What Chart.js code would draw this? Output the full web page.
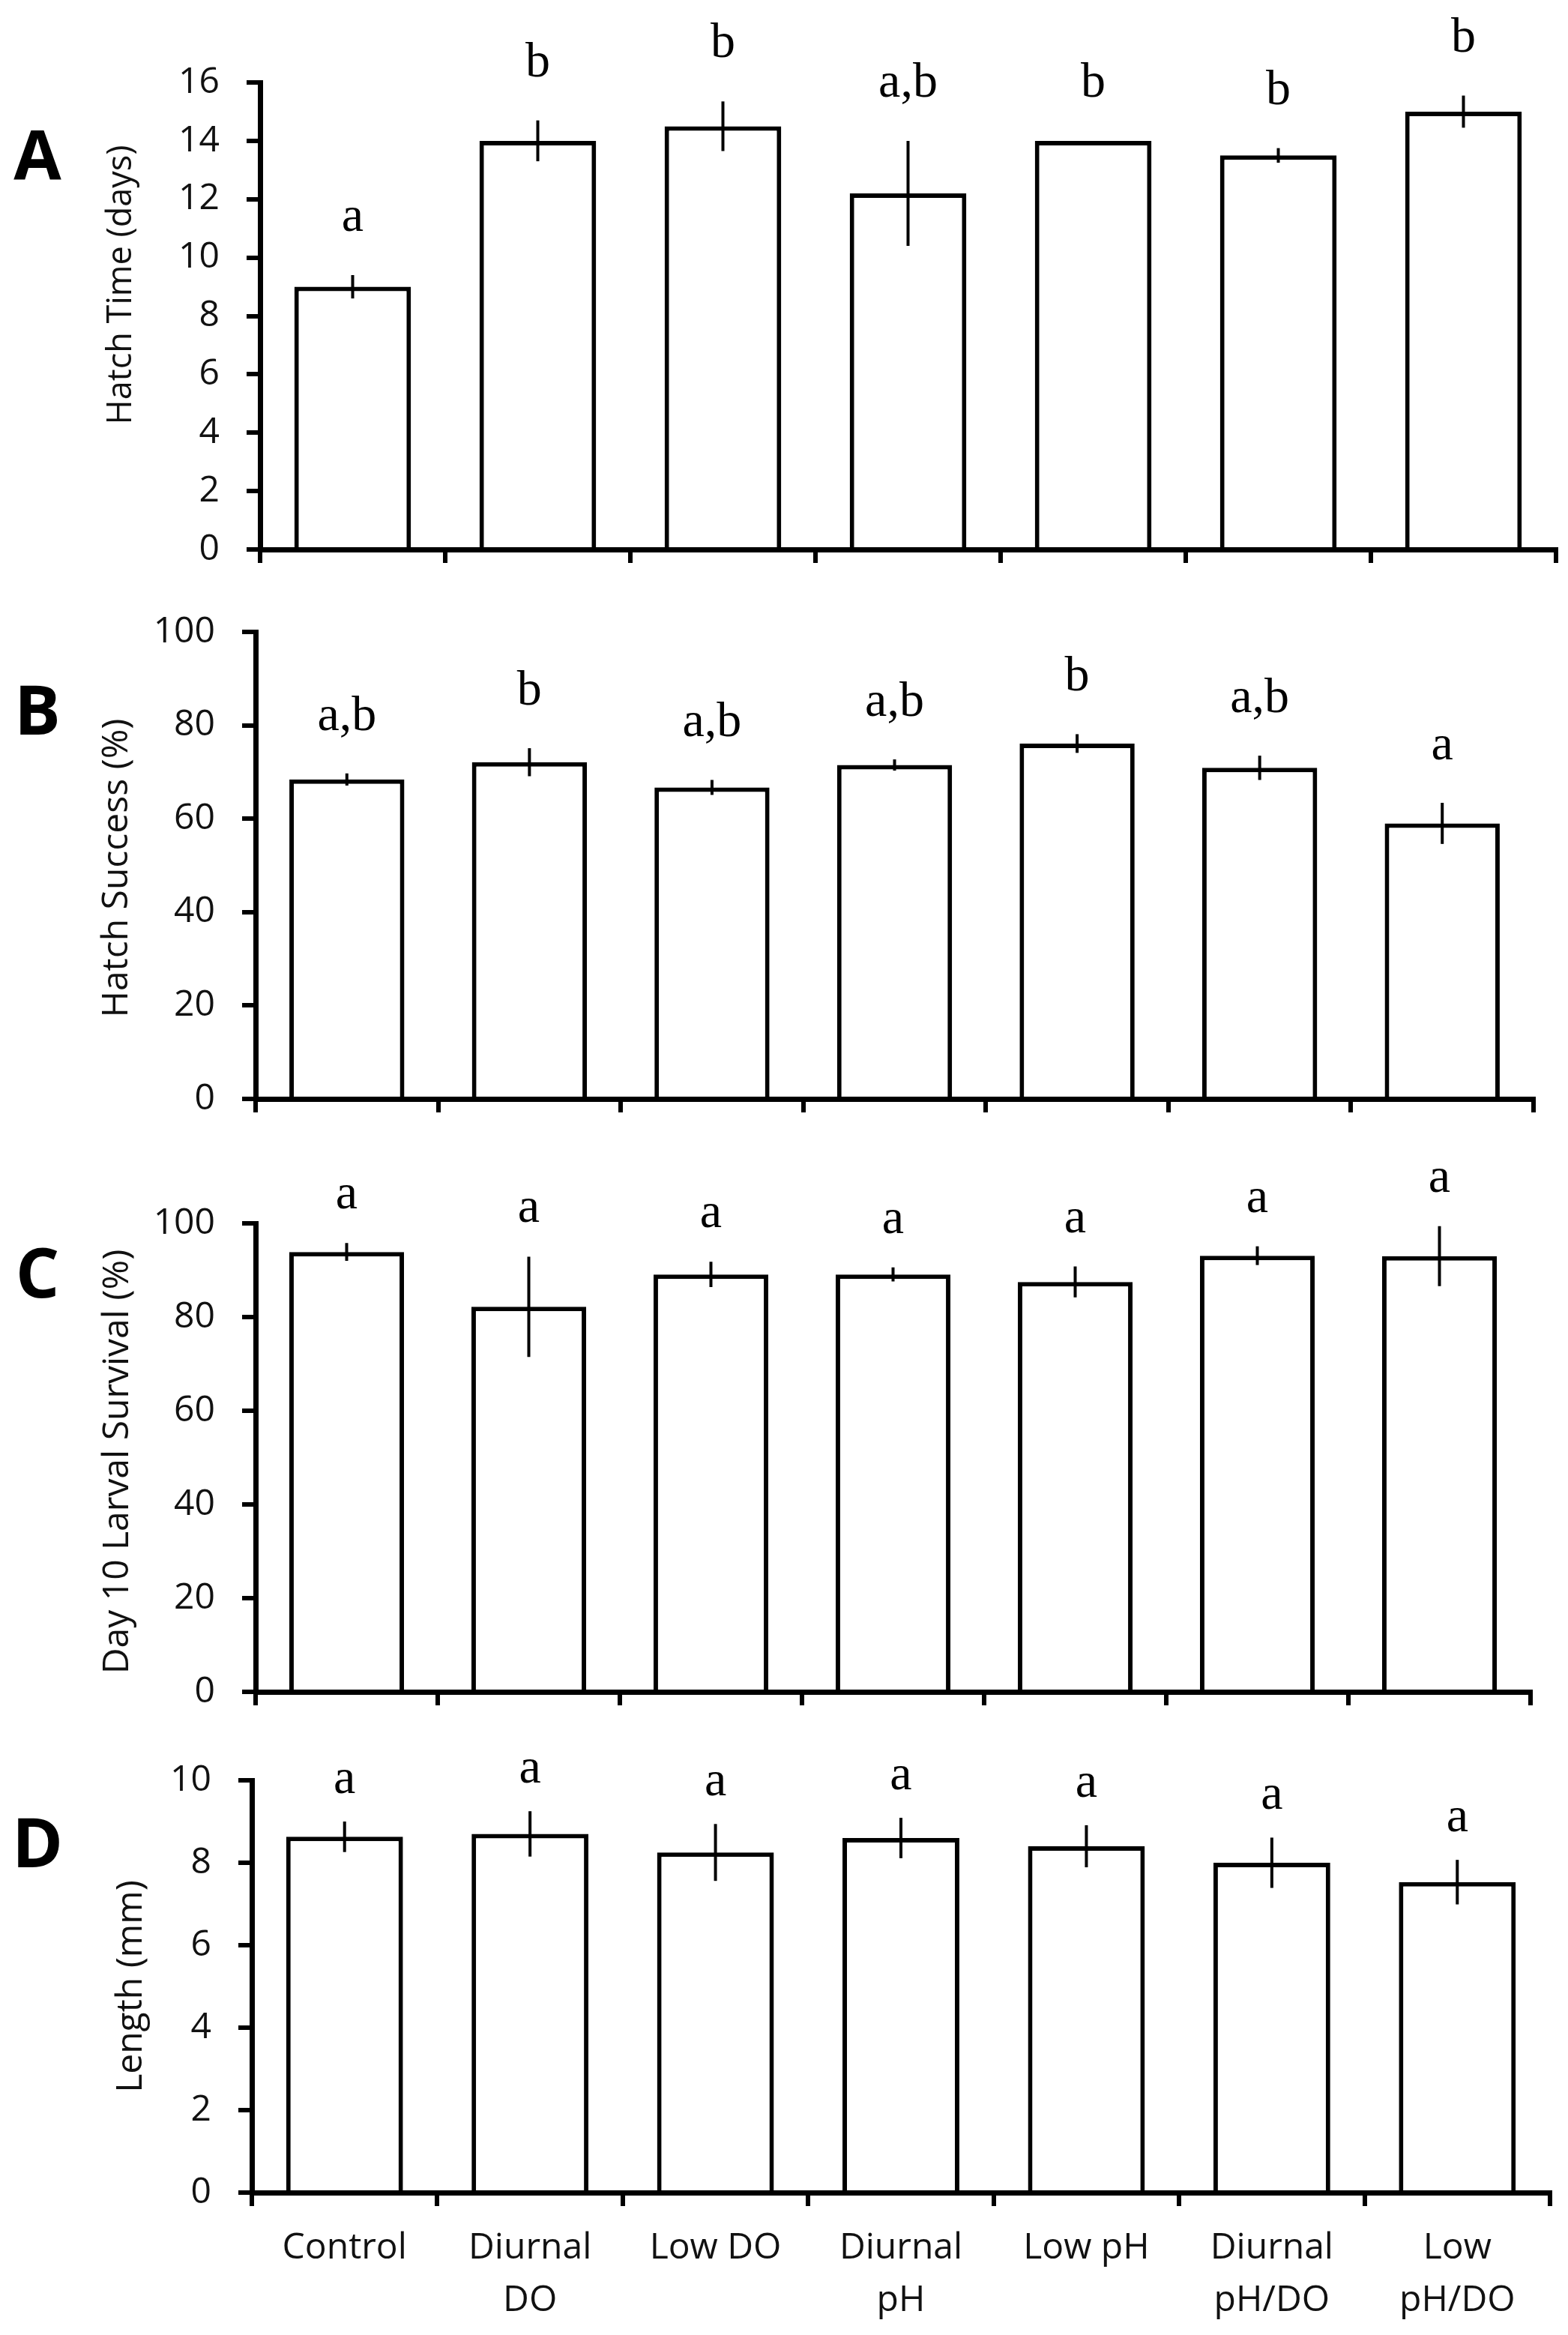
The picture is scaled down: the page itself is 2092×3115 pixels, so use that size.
<!DOCTYPE html>
<html>
<head>
<meta charset="utf-8">
<script src="https://cdn.jsdelivr.net/npm/chart.js@4.4.1/dist/chart.umd.min.js"></script>
<style>
html,body{margin:0;padding:0;background:#fff;}
#wrap{position:relative;width:2092px;height:3115px;background:#fff;overflow:hidden;}
canvas{position:absolute;left:0;}
</style>
</head>
<body>
<div id="wrap">
<canvas id="cA" width="2092" height="840" style="top:0px;width:2092px;height:840px"></canvas>
<canvas id="cB" width="2092" height="800" style="top:770px;width:2092px;height:800px"></canvas>
<canvas id="cC" width="2092" height="830" style="top:1530px;width:2092px;height:830px"></canvas>
<canvas id="cD" width="2092" height="815" style="top:2300px;width:2092px;height:815px"></canvas>
</div>
<script>
// ---------- DATA ----------
const categories = ['Control', ['Diurnal', 'DO'], 'Low DO', ['Diurnal', 'pH'], 'Low pH', ['Diurnal', 'pH/DO'], ['Low', 'pH/DO']];

const hatchTime        = [9.0, 14.0, 14.5, 12.2, 14.0, 13.5, 15.0];
const hatchTimeErr     = [0.4, 0.7, 0.85, 1.8, 0, 0.25, 0.55];
const hatchTimeLetters = ['a', 'b', 'b', 'a,b', 'b', 'b', 'b'];
const hatchTimeTicks   = [0, 2, 4, 6, 8, 10, 12, 14, 16];

const hatchSuccess        = [68.4, 72.1, 66.7, 71.5, 76.1, 70.9, 59.0];
const hatchSuccessErr     = [1.3, 3.0, 1.6, 1.2, 2.0, 2.6, 4.4];
const hatchSuccessLetters = ['a,b', 'b', 'a,b', 'a,b', 'b', 'a,b', 'a'];
const hatchSuccessTicks   = [0, 20, 40, 60, 80, 100];

const survival        = [93.9, 82.2, 89.1, 89.1, 87.5, 93.1, 93.0];
const survivalErr     = [1.9, 10.7, 2.7, 1.5, 3.3, 2.0, 6.4];
const survivalLetters = ['a', 'a', 'a', 'a', 'a', 'a', 'a'];
const survivalTicks   = [0, 20, 40, 60, 80, 100];

const lengthMm        = [8.63, 8.70, 8.25, 8.60, 8.40, 8.00, 7.53];
const lengthErr       = [0.37, 0.55, 0.69, 0.49, 0.51, 0.61, 0.54];
const lengthLetters   = ['a', 'a', 'a', 'a', 'a', 'a', 'a'];
const lengthTicks     = [0, 2, 4, 6, 8, 10];

// ---------- LAYOUT / STYLE ----------
const FONT_SANS = '"Open Sans", "Noto Sans", "DejaVu Sans", sans-serif';
const FONT_SERIF = '"Liberation Serif", "DejaVu Serif", serif';

const panels = [
  { id: 'cA', top: 0,    height: 840, values: hatchTime,    errors: hatchTimeErr,    letters: hatchTimeLetters,    ticks: hatchTimeTicks,
    title: 'Hatch Time (days)', titleSize: 45, panel: 'A', area: { left: 347, right: 2076, top: 110,  bottom: 733 },
    titleX: 162, titleY: 380, panelY: 214, letterGap: 59, showX: false },
  { id: 'cB', top: 770,  height: 800, values: hatchSuccess, errors: hatchSuccessErr, letters: hatchSuccessLetters, ticks: hatchSuccessTicks,
    title: 'Hatch Success (%)', titleSize: 48, panel: 'B', area: { left: 341, right: 2046, top: 843,  bottom: 1466 },
    titleX: 156, titleY: 1158, panelY: 954, letterGap: 58, showX: false },
  { id: 'cC', top: 1530, height: 830, values: survival,     errors: survivalErr,     letters: survivalLetters,     ticks: survivalTicks,
    title: 'Day 10 Larval Survival (%)', titleSize: 48, panel: 'C', area: { left: 341, right: 2042, top: 1632, bottom: 2257 },
    titleX: 157, titleY: 1950, panelY: 1705, letterGap: 46, showX: false },
  { id: 'cD', top: 2300, height: 815, values: lengthMm,     errors: lengthErr,       letters: lengthLetters,       ticks: lengthTicks,
    title: 'Length (mm)', titleSize: 48, panel: 'D', area: { left: 336, right: 2068, top: 2375, bottom: 2925 },
    titleX: 175, titleY: 2650, panelY: 2465, letterGap: 38, showX: true }
];

function makeAnnot(p) {
  return {
    id: 'annot' + p.panel,
    afterDatasetsDraw(chart) {
      const ctx = chart.ctx;
      const x = chart.scales.x, y = chart.scales.y;
      ctx.save();
      ctx.strokeStyle = '#000';
      ctx.lineWidth = 4;
      ctx.fillStyle = '#000';
      ctx.textAlign = 'center';
      ctx.textBaseline = 'alphabetic';
      ctx.font = '66px ' + FONT_SERIF;
      p.values.forEach((v, i) => {
        const e = p.errors[i];
        const cx = x.getPixelForValue(i);
        if (e > 0) {
          ctx.beginPath();
          ctx.moveTo(cx, y.getPixelForValue(v - e));
          ctx.lineTo(cx, y.getPixelForValue(v + e));
          ctx.stroke();
        }
        ctx.fillText(p.letters[i], cx, y.getPixelForValue(v + e) - p.letterGap);
      });
      ctx.restore();
    },
    afterDraw(chart) {
      const ctx = chart.ctx;
      ctx.save();
      ctx.fillStyle = '#000';
      ctx.textAlign = 'center';
      ctx.textBaseline = 'middle';
      ctx.font = 'bold 92px ' + FONT_SANS;
      ctx.fillText(p.panel, 50, p.panelY - p.top);
      // y-axis title
      ctx.fillStyle = '#111';
      ctx.font = p.titleSize + 'px ' + FONT_SANS;
      ctx.translate(p.titleX, p.titleY - p.top);
      ctx.rotate(-Math.PI / 2);
      ctx.fillText(p.title, 0, 0);
      ctx.restore();
    }
  };
}

panels.forEach(p => {
  const tickMin = p.ticks[0];
  const tickMax = p.ticks[p.ticks.length - 1];
  const step = p.ticks[1] - p.ticks[0];
  new Chart(document.getElementById(p.id), {
    type: 'bar',
    data: {
      labels: categories,
      datasets: [{
        data: p.values,
        backgroundColor: '#ffffff',
        borderColor: '#000000',
        borderWidth: 6,
        borderSkipped: 'bottom',
        barPercentage: 0.63,
        categoryPercentage: 1.0
      }]
    },
    options: {
      responsive: false,
      animation: false,
      devicePixelRatio: 1,
      layout: { padding: { left: 0, right: 2092 - p.area.right, top: p.area.top - p.top, bottom: 0 } },
      plugins: { legend: { display: false }, tooltip: { enabled: false } },
      scales: {
        x: {
          type: 'category',
          offset: true,
          z: 1,
          grid: { display: true, offset: true, drawOnChartArea: false, drawTicks: true, tickLength: 18, tickWidth: 6, tickColor: '#000', lineWidth: 6, color: '#000' },
          border: { display: true, color: '#000', width: 7 },
          ticks: { display: p.showX, autoSkip: false, maxRotation: 0, minRotation: 0, color: '#111', padding: 21,
                   font: { family: FONT_SANS, size: 48, lineHeight: 1.46 } },
          afterFit(s) { s.height = p.top + p.height - p.area.bottom; }
        },
        y: {
          min: tickMin,
          max: tickMax,
          z: 1,
          grid: { display: true, drawOnChartArea: false, drawTicks: true, tickLength: 18, tickWidth: 6, tickColor: '#000', lineWidth: 6, color: '#000' },
          border: { display: true, color: '#000', width: 7 },
          ticks: { stepSize: step, color: '#111', padding: 36, font: { family: FONT_SANS, size: 48 } },
          title: { display: false },
          afterFit(s) { s.width = p.area.left; }
        }
      }
    },
    plugins: [makeAnnot(p)]
  });
});
</script>
</body>
</html>
